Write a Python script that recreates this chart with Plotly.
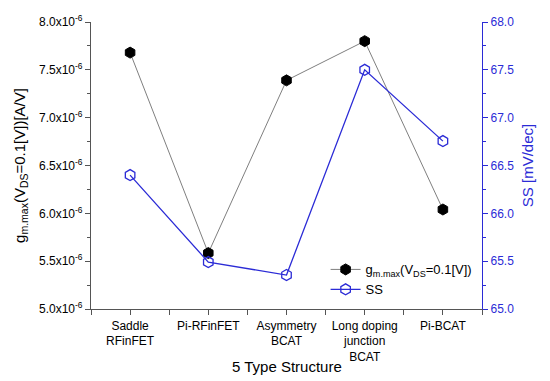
import plotly.graph_objects as go

categories = ["Saddle<br>RFinFET", "Pi-RFinFET", "Asymmetry<br>BCAT", "Long doping<br>junction<br>BCAT", "Pi-BCAT"]
gm_values = [7.68e-6, 5.585e-6, 7.39e-6, 7.80e-6, 6.04e-6]
ss_values = [66.40, 65.49, 65.355, 67.50, 66.755]
left_tick_vals = [5.0e-6, 5.5e-6, 6.0e-6, 6.5e-6, 7.0e-6, 7.5e-6, 8.0e-6]
left_tick_text = ["5.0x10<sup>-6</sup>", "5.5x10<sup>-6</sup>", "6.0x10<sup>-6</sup>", "6.5x10<sup>-6</sup>",
                  "7.0x10<sup>-6</sup>", "7.5x10<sup>-6</sup>", "8.0x10<sup>-6</sup>"]
right_tick_vals = [65.0, 65.5, 66.0, 66.5, 67.0, 67.5, 68.0]
x_title = "5 Type Structure"

BLUE = "#2b2bd6"
FONT = "Liberation Sans, Arial, sans-serif"

x = list(range(len(categories)))

fig = go.Figure()
fig.add_trace(go.Scatter(
    x=x, y=gm_values, mode="lines+markers",
    name="g<sub>m.max</sub>(V<sub>DS</sub>=0.1[V])",
    line=dict(color="#7f7f7f", width=1),
    marker=dict(symbol="hexagon", size=11, color="black", line=dict(color="black", width=1)),
    yaxis="y",
))
fig.add_trace(go.Scatter(
    x=x, y=ss_values, mode="lines+markers",
    name="SS",
    line=dict(color=BLUE, width=1.3),
    marker=dict(symbol="hexagon-open", size=11, color=BLUE, line=dict(color=BLUE, width=1.3)),
    yaxis="y2",
))

fig.add_annotation(text=x_title, xref="paper", yref="paper", x=0.5, y=-0.2,
                   xanchor="center", yanchor="middle", showarrow=False, font=dict(size=15))

fig.update_layout(
    width=550, height=381,
    margin=dict(l=83, r=76, t=14, b=80),
    paper_bgcolor="white", plot_bgcolor="white",
    font=dict(family=FONT, size=12, color="black"),
    showlegend=True,
    legend=dict(x=0.6, y=0.19, xanchor="left", yanchor="top", bgcolor="rgba(0,0,0,0)",
                font=dict(size=13), tracegroupgap=0, itemwidth=30),
    xaxis=dict(
        range=[-0.5, 4.5], tickmode="array", tickvals=x, ticktext=categories,
        showline=True, linecolor="#555", linewidth=1.2,
        ticks="outside", ticklen=5, tickcolor="#555",
        minor=dict(ticks="outside", ticklen=5, tickcolor="#555", dtick=0.5, tick0=-0.5),
        showgrid=False, zeroline=False, automargin=False,
        tickfont=dict(size=12),
    ),
    xaxis2=dict(
        matches="x", overlaying="x", side="top", range=[-0.5, 4.5],
        tickmode="array", tickvals=x, showticklabels=False,
        showline=True, linecolor="#555", linewidth=1.2,
        ticks="inside", ticklen=5, tickcolor="#555",
        minor=dict(ticks="inside", ticklen=5, tickcolor="#555", dtick=0.5, tick0=-0.5),
        showgrid=False, zeroline=False, automargin=False,
    ),
    yaxis=dict(
        range=[5.0e-6, 8.0e-6], tickmode="array", tickvals=left_tick_vals, ticktext=left_tick_text,
        showline=True, linecolor="#555", linewidth=1.2,
        ticks="outside", ticklen=5, tickcolor="#555",
        minor=dict(ticks="outside", ticklen=3, tickcolor="#555", dtick=0.25e-6, tick0=5.0e-6),
        showgrid=False, zeroline=False, automargin=False,
        title=dict(text="g<sub>m.max</sub>(V<sub>DS</sub>=0.1[V])[A/V]", font=dict(size=15), standoff=9),
        tickfont=dict(size=12),
    ),
    yaxis2=dict(
        range=[65.0, 68.0], overlaying="y", side="right", tickmode="array",
        tickvals=right_tick_vals, ticktext=[f"{v:.1f}" for v in right_tick_vals],
        showline=True, linecolor=BLUE, linewidth=1.2,
        ticks="outside", ticklen=5, tickcolor=BLUE,
        minor=dict(ticks="outside", ticklen=3, tickcolor=BLUE, dtick=0.25, tick0=65.0),
        showgrid=False, zeroline=False, automargin=False,
        title=dict(text="SS [mV/dec]", font=dict(size=15, color=BLUE), standoff=9),
        tickfont=dict(size=12, color=BLUE),
    ),
)

fig.write_html("out.html")
